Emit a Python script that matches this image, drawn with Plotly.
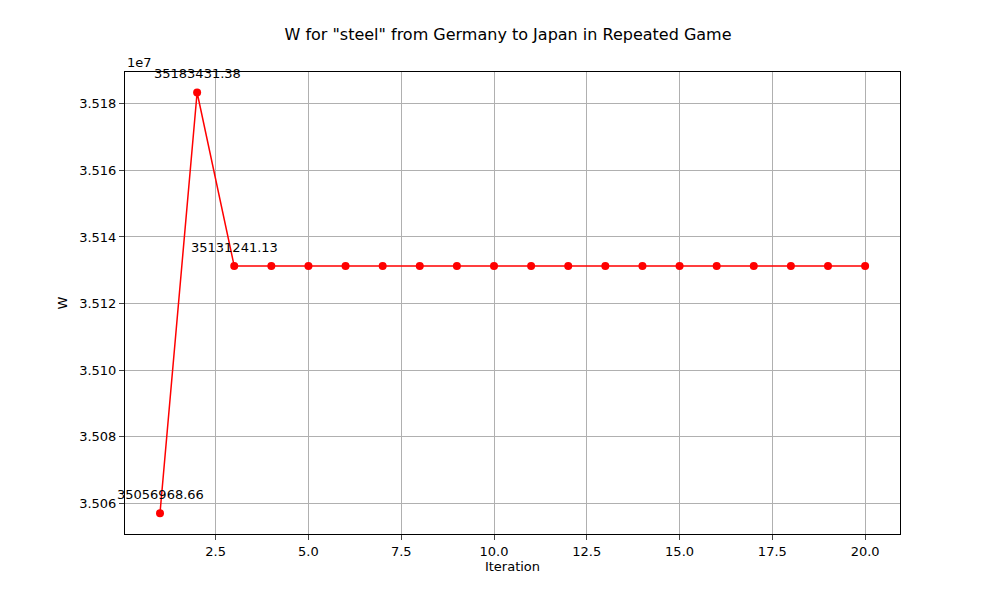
import plotly.graph_objects as go

iterations = list(range(1, 21))
w_values = [35056968.66, 35183431.38] + [35131241.13] * 18
labelled = [0, 1, 2]

y_ticks = [3.506e7, 3.508e7, 3.510e7, 3.512e7, 3.514e7, 3.516e7, 3.518e7]
y_text = ["3.506", "3.508", "3.510", "3.512", "3.514", "3.516", "3.518"]
x_ticks = [2.5, 5, 7.5, 10, 12.5, 15, 17.5, 20]
x_text = ["2.5", "5.0", "7.5", "10.0", "12.5", "15.0", "17.5", "20.0"]

fig = go.Figure()
fig.add_trace(go.Scatter(
    x=iterations, y=w_values, mode="lines+markers",
    line=dict(color="red", width=1.5),
    marker=dict(color="red", size=8),
))

for i in labelled:
    fig.add_annotation(x=iterations[i], y=w_values[i], text=f"{w_values[i]:.2f}",
                       showarrow=False, yshift=19, font=dict(size=13, color="black"))

fig.add_annotation(xref="paper", yref="paper", x=0, y=1, text="1e7", showarrow=False,
                   xanchor="left", yanchor="bottom", font=dict(size=13, color="black"))

axis_common = dict(showgrid=True, gridcolor="#b0b0b0", gridwidth=1, showline=True,
                   linecolor="black", mirror=True, ticks="outside", zeroline=False,
                   tickfont=dict(size=13, color="black"))

fig.update_layout(
    width=1000, height=600,
    paper_bgcolor="white", plot_bgcolor="white",
    margin=dict(l=117, r=108, t=64, b=74),
    showlegend=False,
    font=dict(family="DejaVu Sans", color="black"),
    title=dict(text='W for "steel" from Germany to Japan in Repeated Game',
               x=0.5, y=0.965, xanchor="center", font=dict(size=16)),
    xaxis=dict(range=[0.057, 20.94], tickvals=x_ticks, ticktext=x_text,
               title=dict(text="Iteration", font=dict(size=13), standoff=4), **axis_common),
    yaxis=dict(range=[3.50507e7, 3.51896e7], tickvals=y_ticks, ticktext=y_text,
               title=dict(text="W", font=dict(size=13), standoff=8), **axis_common),
)

fig.write_html("out.html")
